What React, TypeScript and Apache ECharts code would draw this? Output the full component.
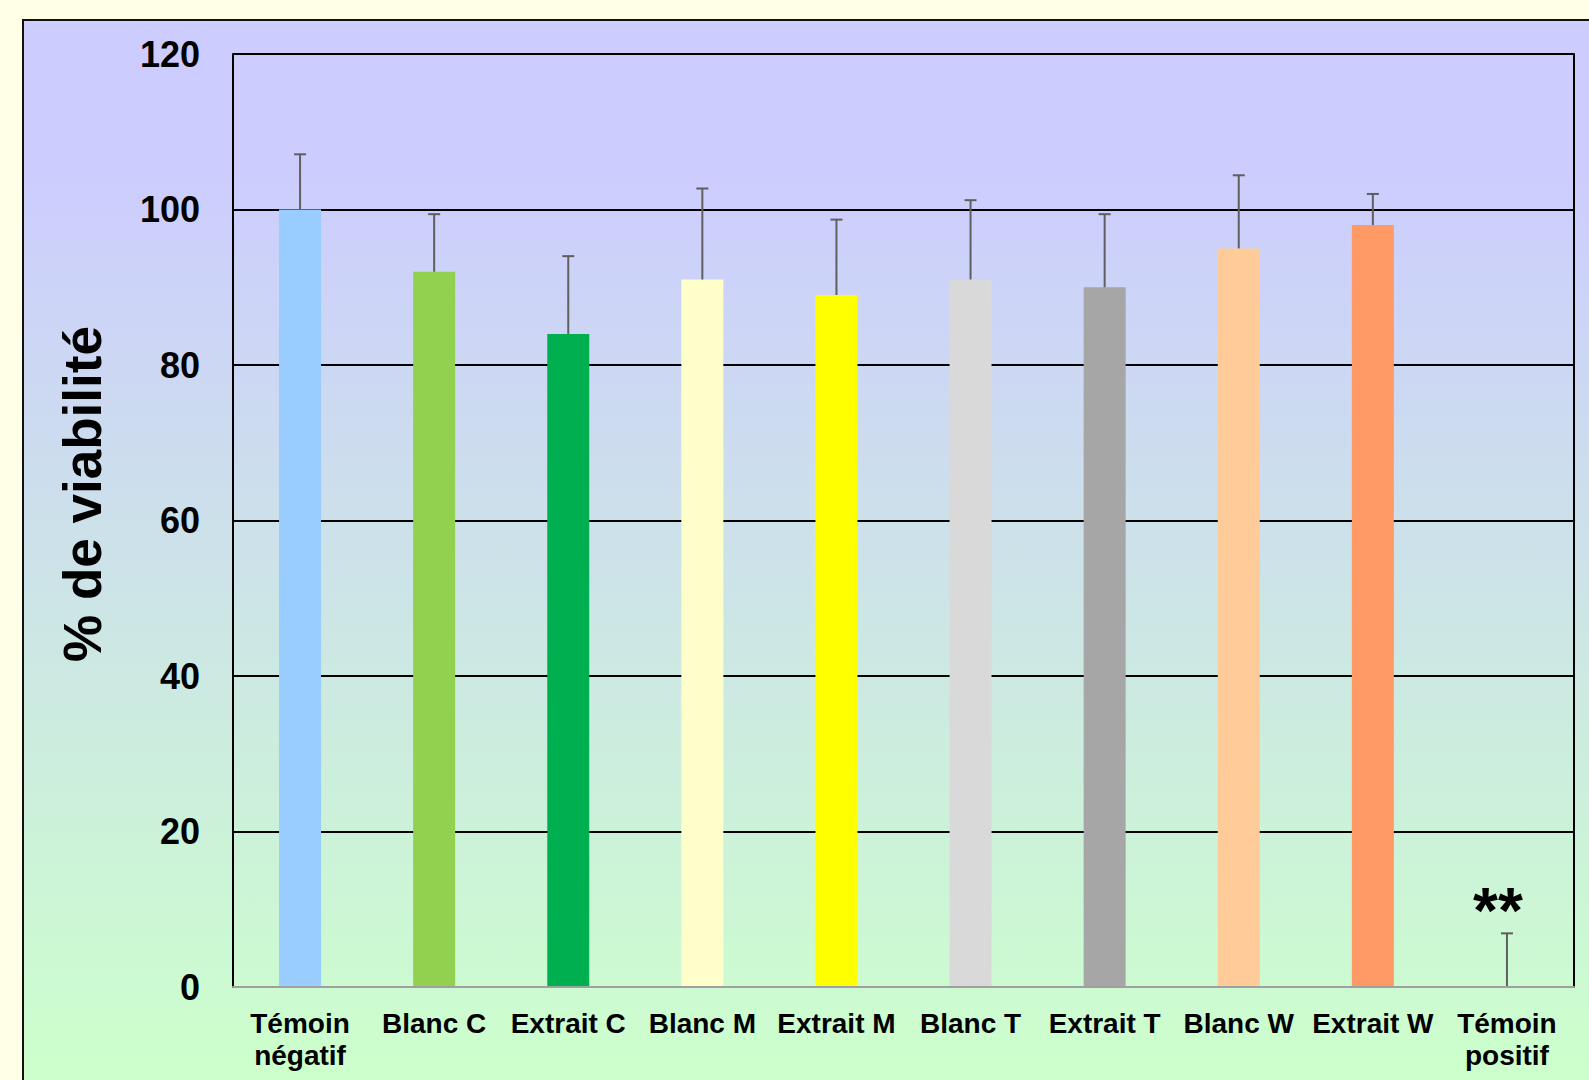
import React, { useEffect, useRef } from "react";
import * as echarts from "echarts";

const categories = [
  "Témoin\nnégatif",
  "Blanc C",
  "Extrait C",
  "Blanc M",
  "Extrait M",
  "Blanc T",
  "Extrait T",
  "Blanc W",
  "Extrait W",
  "Témoin\npositif",
];
const viability = [100, 92, 84, 91, 89, 91, 90, 95, 98, 0];
const stdDev = [7.1, 7.4, 10, 11.7, 9.7, 10.2, 9.4, 9.4, 4, 6.9];
const significance = ["", "", "", "", "", "", "", "", "", "**"];
const barColors = [
  "#99CCFF",
  "#92D050",
  "#00B050",
  "#FFFFCC",
  "#FFFF00",
  "#D9D9D9",
  "#A6A6A6",
  "#FFCC99",
  "#FF9966",
  "#FF9966",
];
const yTicks = { min: 0, max: 120, interval: 20 };
const yTitle = "% de viabilité";

const FONT = "'Liberation Sans', Arial, Helvetica, sans-serif";

export default function App() {
  const ref = useRef<HTMLDivElement>(null);

  useEffect(() => {
    document.body.style.margin = "0";
    if (!ref.current) return;
    const chart = echarts.init(ref.current, undefined, { renderer: "svg" });
    chart.setOption({
      animation: false,
      backgroundColor: "transparent",
      grid: { left: 233, top: 54, right: 15, bottom: 93, containLabel: false },
      graphic: [
        {
          type: "text",
          x: 82,
          y: 494,
          rotation: Math.PI / 2,
          style: {
            text: yTitle,
            fill: "#000",
            font: `bold 53px ${FONT}`,
            align: "center",
            verticalAlign: "middle",
          },
        },
      ],
      xAxis: {
        type: "category",
        data: categories,
        axisTick: { show: false },
        axisLine: { show: true, lineStyle: { color: "#A0A0A0", width: 2 } },
        axisLabel: {
          interval: 0,
          margin: 20,
          fontFamily: FONT,
          fontWeight: "bold",
          fontSize: 28,
          lineHeight: 32,
          color: "#000",
        },
        z: 5,
      },
      yAxis: [
        {
          type: "value",
          min: yTicks.min,
          max: yTicks.max,
          interval: yTicks.interval,
          axisLine: { show: true, lineStyle: { color: "#000", width: 2 } },
          axisTick: { show: false },
          axisLabel: {
            margin: 33,
            fontFamily: FONT,
            fontWeight: "bold",
            fontSize: 36,
            color: "#000",
          },
          splitLine: {
            show: true,
            showMinLine: false,
            showMaxLine: true,
            lineStyle: { color: "#000", width: 2 },
          },
        },
        {
          type: "value",
          position: "right",
          min: yTicks.min,
          max: yTicks.max,
          interval: yTicks.interval,
          axisLine: { show: true, lineStyle: { color: "#000", width: 2 } },
          axisTick: { show: false },
          axisLabel: { show: false },
          splitLine: { show: false },
        },
      ],
      series: [
        {
          type: "bar",
          data: viability.map((v, i) => ({
            value: v,
            itemStyle: { color: barColors[i] },
          })),
          barWidth: 42,
          z: 2,
        },
        {
          type: "custom",
          z: 3,
          data: viability.map((v, i) => [i, v, stdDev[i]]),
          renderItem: (params: any, api: any) => {
            const idx = api.value(0);
            const v = api.value(1);
            const sd = api.value(2);
            const base = api.coord([idx, v]);
            const top = api.coord([idx, v + sd]);
            const cap = 6;
            const children: any[] = [
              {
                type: "line",
                shape: { x1: base[0], y1: base[1], x2: top[0], y2: top[1] },
                style: { stroke: "#5F5F5F", lineWidth: 2 },
              },
              {
                type: "line",
                shape: { x1: top[0] - cap, y1: top[1], x2: top[0] + cap, y2: top[1] },
                style: { stroke: "#5F5F5F", lineWidth: 2 },
              },
            ];
            const sig = significance[params.dataIndex];
            if (sig) {
              children.push({
                type: "text",
                x: top[0] - 9,
                y: top[1] - 22,
                style: {
                  text: sig,
                  fill: "#000",
                  font: `bold 64px ${FONT}`,
                  align: "center",
                  verticalAlign: "middle",
                },
              });
            }
            return { type: "group", children };
          },
        },
      ],
    });
    return () => chart.dispose();
  }, []);

  return (
    <div
      style={{
        position: "relative",
        width: 1589,
        height: 1080,
        overflow: "hidden",
        background: "#FFFFE8",
      }}
    >
      <div
        style={{
          position: "absolute",
          left: 22,
          top: 19,
          width: 1640,
          height: 1140,
          border: "2px solid #111",
          background: "linear-gradient(to bottom, #CCCCFF 0%, #CCCCFF 12%, #CCFFCC 92%, #CCFFCC 100%)",
        }}
      />
      <div ref={ref} style={{ position: "absolute", left: 0, top: 0, width: 1589, height: 1080 }} />
    </div>
  );
}
